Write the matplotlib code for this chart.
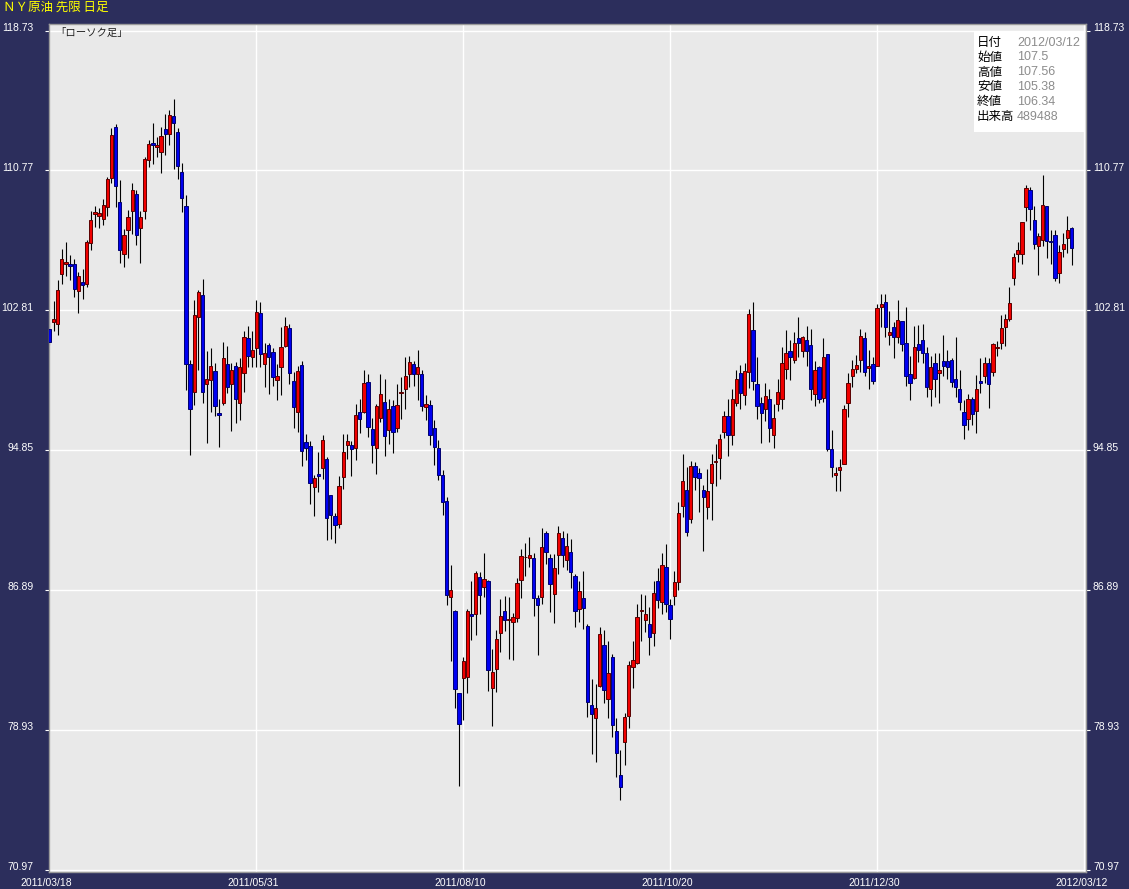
import matplotlib
matplotlib.use("Agg")
import matplotlib.pyplot as plt
from matplotlib import font_manager
from matplotlib.patches import Rectangle
from matplotlib.transforms import ScaledTranslation
import numpy as np

# daily OHLC, 2011/03/18 .. 2012/03/12
opens = [101.73, 102.11, 102.05, 104.85, 105.45, 105.43, 105.43, 103.93, 104.39, 104.28,
         106.61, 108.26, 108.18, 107.98, 108.66, 110.31, 113.24, 108.95, 105.98, 107.35,
         108.43, 109.40, 107.47, 108.43, 111.36, 112.32, 112.11, 111.83, 113.12, 112.82,
         113.86, 112.95, 110.67, 108.74, 99.74, 98.13, 102.40, 103.65, 98.58, 98.83,
         99.34, 96.95, 97.53, 99.74, 98.58, 99.66, 97.55, 99.24, 101.22, 100.15,
         100.67, 102.64, 99.75, 100.82, 100.42, 98.81, 99.55, 100.78, 101.79, 98.77,
         97.02, 99.68, 95.28, 95.07, 92.75, 93.47, 93.80, 94.36, 92.27, 91.12,
         90.66, 93.32, 95.11, 95.12, 94.99, 96.99, 97.00, 98.75, 96.07, 94.99,
         96.68, 97.56, 95.99, 97.34, 96.11, 98.10, 98.35, 99.18, 99.74, 99.15,
         99.15, 97.29, 97.40, 96.09, 94.95, 93.41, 91.93, 86.48, 85.67, 81.04,
         81.87, 81.93, 85.54, 85.51, 87.64, 87.05, 87.38, 81.32, 82.38, 84.43,
         85.67, 85.16, 85.06, 85.29, 87.45, 88.74, 88.70, 88.73, 86.45, 86.48,
         90.11, 88.73, 86.68, 88.90, 89.86, 88.57, 89.07, 87.70, 85.82, 86.45,
         84.81, 80.35, 79.61, 81.41, 83.73, 80.70, 83.05, 78.87, 76.37, 78.25,
         79.70, 82.49, 82.75, 85.68, 85.17, 84.93, 84.45, 87.42, 86.20, 88.21,
         86.05, 86.52, 87.32, 91.66, 92.56, 90.95, 93.93, 93.53, 92.56, 91.61,
         92.98, 94.17, 94.40, 95.85, 96.76, 95.71, 97.50, 99.26, 98.01, 99.30,
         101.71, 98.58, 97.50, 97.16, 97.73, 95.73, 97.48, 97.76, 99.49, 100.46,
         100.00, 101.20, 100.46, 101.10, 100.82, 98.05, 99.57, 97.82, 100.31, 94.88,
         93.45, 93.74, 94.08, 97.50, 99.05, 99.49, 99.96, 101.20, 99.53, 99.74,
         99.64, 102.97, 103.25, 101.37, 101.88, 101.29, 102.17, 100.97, 99.15, 98.96,
         100.86, 101.09, 100.35, 98.35, 99.83, 99.21, 99.89, 99.89, 99.96, 98.87,
         98.35, 97.04, 96.59, 97.73, 97.08, 98.77, 99.07, 99.83, 99.30, 100.67,
         100.92, 101.86, 102.32, 104.65, 105.99, 105.99, 108.66, 109.63, 107.92, 106.44,
         106.78, 108.74, 106.73, 107.08, 104.90, 106.27, 106.90, 107.50]
highs = [102.13, 103.34, 104.52, 106.29, 106.67, 105.94, 105.70, 104.99, 105.15, 106.80,
         108.45, 108.74, 108.61, 109.14, 110.37, 113.20, 113.42, 110.22, 107.41, 108.51,
         110.03, 109.65, 108.47, 111.54, 112.50, 113.48, 112.68, 113.25, 113.96, 114.20,
         114.83, 113.16, 111.17, 109.35, 99.96, 103.38, 103.95, 104.58, 100.48, 100.66,
         99.78, 97.78, 100.99, 100.76, 99.81, 99.87, 100.06, 101.60, 101.90, 101.63,
         103.38, 103.27, 100.92, 100.92, 100.66, 99.74, 101.83, 102.41, 102.05, 99.30,
         99.66, 99.92, 95.75, 95.35, 93.41, 94.74, 95.69, 94.45, 92.27, 91.27,
         93.36, 95.79, 95.79, 95.35, 97.46, 97.74, 99.39, 99.17, 96.70, 97.46,
         99.17, 98.88, 97.74, 97.69, 98.60, 99.01, 100.12, 100.19, 99.91, 100.57,
         99.43, 97.97, 97.69, 96.55, 95.41, 93.70, 92.16, 88.29, 85.73, 81.04,
         83.06, 85.80, 87.38, 87.99, 87.91, 88.97, 87.47, 83.50, 84.62, 86.35,
         86.56, 86.50, 85.60, 87.59, 89.20, 89.56, 89.88, 88.99, 86.58, 90.43,
         90.24, 88.95, 88.95, 90.51, 90.24, 90.13, 89.77, 87.81, 87.39, 87.95,
         84.97, 81.79, 81.55, 84.77, 84.59, 83.96, 83.22, 79.61, 77.75, 79.90,
         82.84, 83.96, 86.07, 86.64, 86.60, 85.91, 87.38, 88.16, 89.01, 89.52,
         86.39, 87.94, 91.88, 94.61, 93.89, 94.21, 94.14, 93.80, 92.84, 93.76,
         94.61, 95.22, 95.79, 97.06, 97.78, 98.30, 99.39, 99.68, 99.81, 102.87,
         103.29, 100.12, 97.84, 98.64, 98.30, 97.46, 98.88, 100.72, 101.71, 101.10,
         101.54, 102.40, 101.33, 101.90, 101.73, 99.92, 99.62, 101.20, 100.31, 95.98,
         93.89, 94.36, 97.40, 99.21, 100.00, 100.27, 101.73, 101.58, 100.57, 100.12,
         103.15, 103.72, 103.72, 102.77, 102.15, 103.38, 102.17, 102.97, 100.19, 101.90,
         101.99, 102.05, 100.72, 100.19, 100.38, 100.38, 101.41, 100.57, 100.06, 101.29,
         99.43, 97.69, 98.03, 97.87, 99.11, 100.06, 100.12, 100.06, 100.97, 101.06,
         102.53, 102.62, 104.14, 106.08, 106.70, 107.84, 109.93, 109.80, 108.74, 107.18,
         110.50, 108.74, 107.37, 107.37, 106.51, 107.18, 108.17, 107.56]
lows = [100.82, 101.63, 101.39, 104.29, 104.77, 104.52, 103.57, 102.66, 103.42, 104.11,
        106.25, 107.52, 107.47, 107.67, 108.18, 110.06, 108.66, 105.47, 105.28, 105.76,
        107.14, 106.53, 105.51, 107.98, 110.97, 111.11, 111.54, 110.63, 111.64, 112.21,
        110.83, 110.26, 108.41, 98.26, 94.59, 97.40, 99.39, 97.50, 95.25, 97.02,
        96.79, 95.03, 97.44, 98.10, 95.94, 96.36, 96.55, 98.16, 99.58, 99.58,
        99.58, 99.58, 98.44, 98.03, 98.48, 97.69, 98.01, 100.72, 98.58, 96.11,
        95.88, 93.94, 94.27, 91.80, 91.09, 92.46, 93.19, 89.71, 89.81, 89.58,
        90.43, 92.63, 94.36, 93.37, 94.27, 95.82, 96.96, 95.60, 94.11, 93.51,
        96.45, 94.51, 95.18, 94.68, 95.88, 96.64, 97.21, 98.44, 98.50, 97.69,
        97.08, 96.55, 95.12, 93.98, 93.13, 91.13, 86.01, 82.84, 80.16, 75.72,
        79.46, 81.01, 84.02, 84.30, 85.54, 86.48, 81.13, 79.13, 81.07, 83.35,
        84.53, 82.95, 82.88, 85.06, 86.43, 87.66, 88.19, 85.38, 83.16, 86.07,
        88.38, 85.63, 85.00, 87.81, 88.19, 88.00, 87.02, 84.77, 85.06, 84.64,
        79.65, 77.56, 77.08, 81.36, 80.44, 79.61, 78.51, 76.23, 74.94, 76.90,
        79.02, 81.32, 82.69, 83.98, 84.47, 83.18, 83.67, 85.86, 85.50, 85.63,
        84.11, 86.01, 86.86, 91.04, 89.96, 90.70, 92.56, 91.32, 89.10, 90.91,
        90.85, 92.80, 93.19, 95.56, 94.51, 95.14, 97.36, 97.17, 97.44, 98.39,
        98.26, 96.64, 95.25, 96.51, 95.31, 94.99, 97.08, 97.17, 98.88, 98.83,
        99.78, 100.15, 100.15, 99.62, 97.69, 97.36, 97.53, 97.59, 94.81, 93.32,
        92.52, 92.52, 94.04, 96.73, 98.44, 99.21, 99.30, 99.05, 98.30, 98.58,
        99.62, 101.86, 101.29, 100.82, 100.10, 100.92, 100.48, 98.50, 97.69, 98.92,
        99.87, 99.81, 97.87, 97.36, 97.87, 97.50, 99.05, 98.92, 98.44, 97.87,
        97.12, 95.45, 95.98, 96.26, 95.82, 98.10, 98.64, 97.25, 99.07, 100.21,
        100.59, 100.78, 102.20, 104.24, 105.56, 105.43, 107.90, 107.37, 106.27, 104.82,
        106.47, 105.77, 105.42, 104.48, 104.33, 105.81, 106.08, 105.38]
closes = [100.99, 102.28, 103.95, 105.70, 105.55, 105.34, 103.99, 104.75, 104.22, 106.67,
          107.94, 108.41, 108.32, 108.78, 110.26, 112.78, 109.89, 106.25, 107.07, 108.09,
          109.65, 107.10, 108.11, 111.40, 112.27, 112.23, 112.21, 112.72, 112.85, 113.92,
          113.48, 111.03, 109.21, 99.75, 97.16, 102.51, 103.84, 98.16, 98.92, 99.62,
          97.38, 96.85, 100.08, 98.41, 99.43, 97.73, 99.57, 101.27, 100.21, 100.57,
          102.70, 100.29, 100.35, 100.15, 99.01, 99.05, 100.71, 101.90, 99.24, 97.30,
          99.34, 94.80, 94.99, 92.98, 93.23, 93.37, 95.41, 91.00, 91.17, 90.61,
          92.83, 94.71, 95.39, 94.93, 96.87, 96.62, 98.64, 96.17, 95.16, 97.38,
          98.03, 95.65, 97.21, 95.88, 97.44, 98.14, 99.09, 99.85, 99.18, 99.55,
          97.36, 97.46, 95.69, 95.01, 93.41, 91.89, 86.58, 86.86, 81.24, 79.27,
          82.86, 85.71, 85.40, 87.83, 86.60, 87.51, 82.31, 82.23, 84.07, 85.42,
          85.16, 85.25, 85.33, 87.26, 88.84, 88.78, 88.90, 86.45, 86.05, 89.31,
          89.05, 87.25, 88.16, 90.15, 88.90, 89.37, 87.91, 85.71, 86.85, 85.86,
          80.50, 79.84, 80.18, 84.40, 81.21, 82.14, 79.21, 77.62, 75.66, 79.67,
          82.59, 82.92, 85.37, 85.76, 85.54, 84.23, 86.73, 86.31, 88.33, 86.11,
          85.25, 87.34, 91.25, 93.11, 90.18, 93.93, 93.32, 93.23, 92.18, 92.49,
          94.04, 94.21, 95.50, 96.76, 95.71, 97.73, 98.92, 98.12, 99.32, 102.57,
          98.79, 97.36, 96.93, 97.95, 96.11, 96.70, 98.18, 99.78, 100.35, 100.15,
          100.92, 100.95, 101.26, 100.49, 98.33, 99.39, 97.76, 100.14, 94.91, 93.89,
          93.54, 93.87, 97.17, 98.64, 99.49, 99.68, 101.33, 99.30, 99.61, 98.79,
          102.91, 103.19, 101.83, 101.54, 101.29, 102.23, 100.86, 99.07, 98.67, 100.69,
          100.57, 100.35, 98.44, 99.55, 98.92, 99.39, 99.64, 99.55, 98.73, 98.44,
          97.59, 96.28, 97.78, 96.89, 98.35, 98.67, 99.79, 98.61, 100.88, 100.72,
          101.79, 102.28, 103.21, 105.81, 106.23, 107.81, 109.76, 108.55, 106.55, 107.01,
          108.79, 106.73, 106.71, 104.67, 106.12, 106.55, 107.35, 106.34]

# bottom axis: one label every 50 bars, last one at the right end
xtick_pos = [0, 50, 100, 150, 200, 250]
xtick_labels = ["2011/03/18", "2011/05/31", "2011/08/10", "2011/10/20", "2011/12/30", "2012/03/12"]
ytick_vals = [118.73, 110.77, 102.81, 94.85, 86.89, 78.93, 70.97]

info_keys = ["日付", "始値", "高値", "安値", "終値", "出来高"]
info_vals = ["2012/03/12", "107.5", "107.56", "105.38", "106.34", "489488"]

BG = "#2c2e5c"
CJK = ["Noto Sans CJK JP", "DejaVu Sans"]
names = {f.name for f in font_manager.fontManager.ttflist}
NARROW = "Liberation Sans Narrow" if "Liberation Sans Narrow" in names else "Liberation Sans"
tick_fs = 9 if NARROW == "Liberation Sans Narrow" else 7.5

W, H = 1129, 889
fig = plt.figure(figsize=(W / 100, H / 100), dpi=100, facecolor=BG)
ax = fig.add_axes([49 / W, 1 - 872 / H, (1086 - 49) / W, (872 - 24) / H])
ax.set_facecolor("#e9e9e9")

o = np.array(opens)
hi = np.array(highs)
lo = np.array(lows)
c = np.array(closes)
x = np.arange(len(o))
up = c >= o

ax.vlines(x, lo, hi, color="black", lw=0.8, zorder=2)
bot = np.minimum(o, c)
hgt = np.maximum(np.abs(c - o), 0.04)
ax.bar(x[up], hgt[up], bottom=bot[up], width=0.8, color="#f00000",
       edgecolor="#5a0000", lw=0.7, zorder=3)
ax.bar(x[~up], hgt[~up], bottom=bot[~up], width=0.8, color="#0000f0",
       edgecolor="#000070", lw=0.7, zorder=3)

ax.set_xlim(-0.1, 250.5)
ax.set_ylim(70.83, 119.10)
ax.set_yticks(ytick_vals)
ax.set_yticklabels([f"{v:.2f}" for v in ytick_vals])
ax.set_xticks(xtick_pos)
ax.set_xticklabels(xtick_labels)
ax.grid(color="white", lw=1)
ax.set_axisbelow(True)
for s in ax.spines.values():
    s.set_color("#9a9a9a")
    s.set_linewidth(1)

ax.tick_params(axis="y", left=True, right=True, labelleft=True, labelright=True,
               colors="white", length=3, width=0.8, pad=2, labelsize=tick_fs)
ax.tick_params(axis="x", colors="white", length=0, pad=4, labelsize=tick_fs)
for t in ax.yaxis.get_major_ticks():
    t.label1.set_family(NARROW)
    t.label2.set_family(NARROW)
    t.label1.set_transform(t.label1.get_transform()
                           + ScaledTranslation(-6 / 72, 2.5 / 72, fig.dpi_scale_trans))
    t.label2.set_transform(t.label2.get_transform()
                           + ScaledTranslation(0, 2.5 / 72, fig.dpi_scale_trans))
for t in ax.xaxis.get_major_ticks():
    t.label1.set_family(NARROW)
    t.label1.set_transform(t.label1.get_transform() + ScaledTranslation(-2 / 72, 0, fig.dpi_scale_trans))

fig.text(3 / W, 1 - 7.5 / H, "ＮＹ原油 先限 日足", color="#ffff00", fontsize=9,
         family=CJK, ha="left", va="center")
fig.text(55 / W, 1 - 33 / H, "「ローソク足」", color="#222222", fontsize=7.5,
         family=CJK, ha="left", va="center")

# info panel, top right
fig.patches.append(Rectangle((974 / W, 1 - 131.7 / H), 111 / W, 100 / H,
                             transform=fig.transFigure, facecolor="white",
                             edgecolor="none", zorder=5))
for k, (key, val) in enumerate(zip(info_keys, info_vals)):
    yy = 1 - (42.5 + 14.8 * k) / H
    fig.text(977 / W, yy, key, color="black", fontsize=9, family=CJK,
             ha="left", va="center", zorder=6)
    fig.text(1017 / W, yy, val, color="#8c8c8c", fontsize=9,
             family="Liberation Sans", ha="left", va="center", zorder=6)

fig.savefig("out.png", dpi=100, facecolor=BG)
